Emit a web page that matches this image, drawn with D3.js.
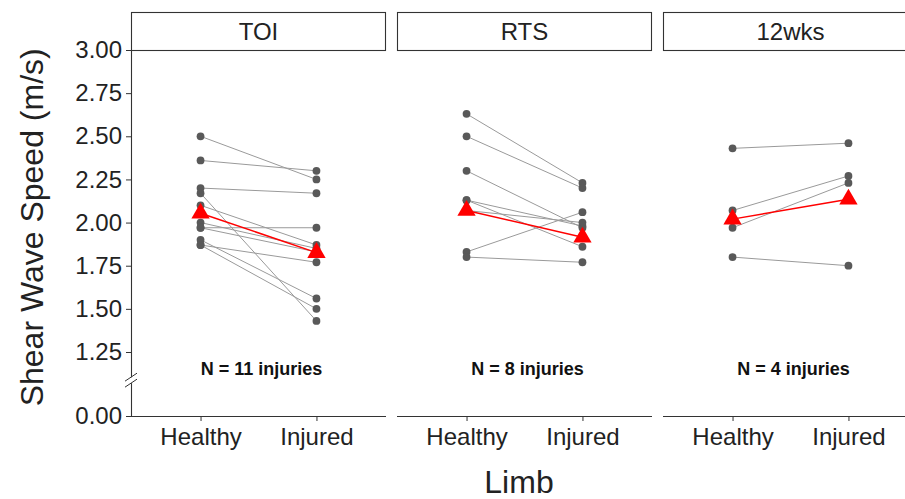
<!DOCTYPE html>
<html>
<head>
<meta charset="utf-8">
<script src="https://cdn.jsdelivr.net/npm/d3@7"></script>
<style>
  body { margin: 0; background: #fff; }
  svg { display: block; font-family: "Liberation Sans", Arial, sans-serif; }
</style>
</head>
<body>
<svg id="svg" width="905" height="499"></svg>
<script>
// data
const timepoints = ["TOI", "RTS", "12wks"];
const limbs = ["Healthy", "Injured"];
const nLabels = ["N = 11 injuries", "N = 8 injuries", "N = 4 injuries"];

const toiHealthy = [2.50, 2.36, 2.20, 2.17, 2.10, 2.00, 1.97, 1.97, 1.90, 1.87, 1.87];
const toiInjured = [2.25, 2.30, 2.17, 1.43, 1.87, 1.85, 1.97, 1.83, 1.56, 1.50, 1.77];

const rtsHealthy = [2.63, 2.50, 2.30, 2.13, 2.13, 2.07, 1.83, 1.80];
const rtsInjured = [2.23, 2.20, 1.97, 1.98, 1.86, 2.00, 2.06, 1.77];

const wksHealthy = [2.43, 2.07, 1.97, 1.80];
const wksInjured = [2.46, 2.27, 2.23, 1.75];

const summaryHealthy = [2.054, 2.07, 2.02];
const summaryInjured = [1.826, 1.915, 2.135];

const yTicks = [0, 1.25, 1.5, 1.75, 2.0, 2.25, 2.5, 2.75, 3.0];
const nLabelY = 0.92;

const healthyByPanel = [toiHealthy, rtsHealthy, wksHealthy];
const injuredByPanel = [toiInjured, rtsInjured, wksInjured];

const width = 905, height = 499;
const panelLeft = 131, panelW = 255, panelGap = 11;
const stripTop = 12, plotTop = 50, plotBottom = 416;
const ink = "#222";

const svg = d3.select("#svg");

const y = d3.scaleLinear().domain([0, 1.25, 3]).range([plotBottom, 352, plotTop]);
const x = d3.scalePoint().domain(limbs).range([0, panelW]).padding(0.6);

timepoints.forEach((tp, i) => {
  const g = svg.append("g")
    .attr("transform", "translate(" + (panelLeft + i * (panelW + panelGap)) + ",0)");

  // strip
  g.append("rect")
    .attr("x", 0.5).attr("y", stripTop + 0.5)
    .attr("width", panelW - 1).attr("height", plotTop - stripTop)
    .attr("fill", "#fff").attr("stroke", "#333").attr("stroke-width", 1.1);
  g.append("text")
    .attr("x", panelW / 2).attr("y", (stripTop + plotTop) / 2 + 8.5)
    .attr("text-anchor", "middle").attr("font-size", 24).attr("fill", ink)
    .text(tp);

  // x axis
  const xAxis = g.append("g").attr("transform", "translate(0," + plotBottom + ")")
    .call(d3.axisBottom(x).tickSize(5).tickSizeOuter(0).tickPadding(7));
  xAxis.select(".domain").attr("stroke", "#333").attr("stroke-width", 1.1)
    .attr("d", "M0,0.5H" + panelW);
  xAxis.selectAll(".tick line").attr("stroke", "#333");
  xAxis.selectAll(".tick text").attr("font-size", 24).attr("fill", ink)
    .attr("font-family", "Liberation Sans, Arial, sans-serif");

  const hv = healthyByPanel[i], iv = injuredByPanel[i];
  const pairs = hv.map((h, k) => ({ h: h, inj: iv[k] }));

  g.selectAll(".pair").data(pairs).enter().append("line")
    .attr("class", "pair")
    .attr("x1", x("Healthy")).attr("x2", x("Injured"))
    .attr("y1", d => y(d.h)).attr("y2", d => y(d.inj))
    .attr("stroke", "#9a9a9a").attr("stroke-width", 1);

  const pts = [];
  pairs.forEach(d => {
    pts.push({ limb: "Healthy", v: d.h });
    pts.push({ limb: "Injured", v: d.inj });
  });
  g.selectAll(".pt").data(pts).enter().append("circle")
    .attr("class", "pt")
    .attr("cx", d => x(d.limb)).attr("cy", d => y(d.v))
    .attr("r", 3.9).attr("fill", "#595959");

  // summary (red)
  const s = [{ limb: "Healthy", v: summaryHealthy[i] }, { limb: "Injured", v: summaryInjured[i] }];
  g.append("line")
    .attr("x1", x(s[0].limb)).attr("y1", y(s[0].v))
    .attr("x2", x(s[1].limb)).attr("y2", y(s[1].v))
    .attr("stroke", "#ff0000").attr("stroke-width", 1.5);
  g.selectAll(".tri").data(s).enter().append("path")
    .attr("class", "tri")
    .attr("transform", d => "translate(" + x(d.limb) + "," + y(d.v) + ")")
    .attr("d", d3.symbol().type(d3.symbolTriangle).size(145))
    .attr("fill", "#ff0000");

  g.append("text")
    .attr("x", panelW / 2 + 3).attr("y", y(nLabelY) + 6)
    .attr("text-anchor", "middle").attr("font-size", 18).attr("font-weight", "bold")
    .attr("fill", "#111")
    .text(nLabels[i]);
});

// y axis on first panel
const yAxis = svg.append("g").attr("transform", "translate(" + panelLeft + ",0)")
  .call(d3.axisLeft(y).tickValues(yTicks).tickFormat(d3.format(".2f"))
    .tickSize(5).tickSizeOuter(0).tickPadding(4));
yAxis.select(".domain").remove();
yAxis.selectAll(".tick line").attr("stroke", "#333");
yAxis.selectAll(".tick text").attr("font-size", 24).attr("fill", ink)
  .attr("font-family", "Liberation Sans, Arial, sans-serif");

// axis line with a break
const breakV = 0.7;
yAxis.append("line").attr("x1", 0.5).attr("x2", 0.5)
  .attr("y1", plotTop).attr("y2", y(breakV) - 3).attr("stroke", "#333").attr("stroke-width", 1.1);
yAxis.append("line").attr("x1", 0.5).attr("x2", 0.5)
  .attr("y1", y(breakV) + 3).attr("y2", plotBottom).attr("stroke", "#333").attr("stroke-width", 1.1);
[-3, 3].forEach(off => {
  yAxis.append("line")
    .attr("x1", -6).attr("y1", y(breakV) + off + 4)
    .attr("x2", 6).attr("y2", y(breakV) + off - 4)
    .attr("stroke", "#333").attr("stroke-width", 1);
});

// axis titles
svg.append("text")
  .attr("transform", "translate(43," + (plotTop + plotBottom) / 2.05 + ") rotate(-90)")
  .attr("text-anchor", "middle").attr("font-size", 32).attr("fill", ink)
  .text("Shear Wave Speed (m/s)");
svg.append("text")
  .attr("x", 519).attr("y", 493)
  .attr("text-anchor", "middle").attr("font-size", 32).attr("fill", ink)
  .text("Limb");
</script>
</body>
</html>
